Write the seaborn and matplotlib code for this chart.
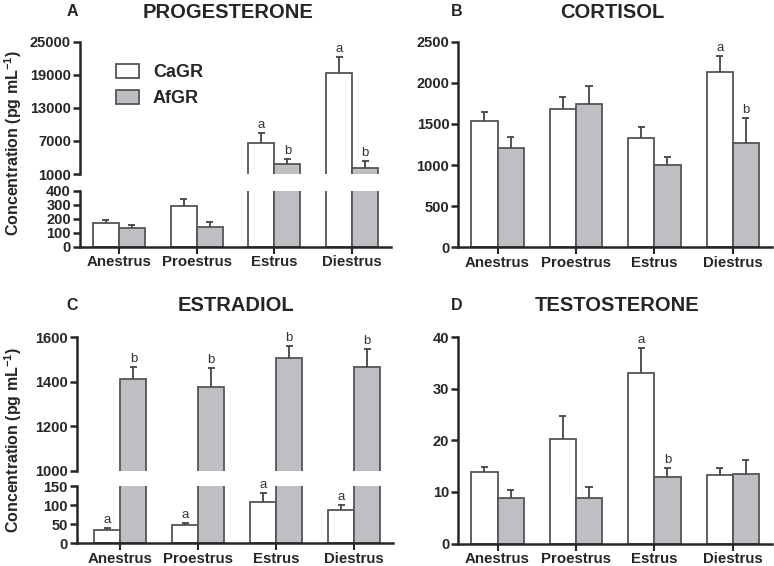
import pandas as pd
import matplotlib.pyplot as plt
import matplotlib.patches as mpatches
import seaborn as sns

# ==============================
# DATA
# ==============================
stages = ["Anestrus", "Proestrus", "Estrus", "Diestrus"]
groups = ["CaGR", "AfGR"]

prog_cagr = [173, 291, 6680, 19380]
prog_cagr_err = [19, 48, 1700, 2900]
prog_afgr = [133, 144, 2810, 2090]
prog_afgr_err = [23, 31, 860, 1320]
prog_letters_cagr = ["", "", "a", "a"]
prog_letters_afgr = ["", "", "b", "b"]

cort_cagr = [1536, 1682, 1333, 2135]
cort_cagr_err = [113, 146, 134, 191]
cort_afgr = [1204, 1742, 1001, 1272]
cort_afgr_err = [133, 219, 93, 297]
cort_letters_cagr = ["", "", "", "a"]
cort_letters_afgr = ["", "", "", "b"]

estr_cagr = [35, 48, 109, 87]
estr_cagr_err = [4, 6, 22, 13]
estr_afgr = [1411, 1375, 1506, 1465]
estr_afgr_err = [57, 88, 56, 83]
estr_letters_cagr = ["a", "a", "a", "a"]
estr_letters_afgr = ["b", "b", "b", "b"]

test_cagr = [13.8, 20.3, 33.0, 13.3]
test_cagr_err = [1.0, 4.4, 5.0, 1.4]
test_afgr = [8.75, 8.9, 12.95, 13.4]
test_afgr_err = [1.55, 2.0, 1.75, 2.8]
test_letters_cagr = ["", "", "a", ""]
test_letters_afgr = ["", "", "b", ""]

# ==============================
# STYLE
# ==============================
sns.set_style("ticks")
plt.rcParams["font.family"] = ["Liberation Sans", "DejaVu Sans"]
plt.rcParams["font.weight"] = "bold"
plt.rcParams["mathtext.fontset"] = "custom"
plt.rcParams["mathtext.rm"] = "Liberation Sans"
plt.rcParams["mathtext.bf"] = "Liberation Sans:bold"

WHITE = "#ffffff"
GREY = "#bdbdc4"
EDGE = "#555555"
ERR = "#444444"

W, H = 774, 566
fig = plt.figure(figsize=(W / 100, H / 100), dpi=100)


def px_axes(x0, y0, x1, y1):
    return fig.add_axes([x0 / W, 1 - y1 / H, (x1 - x0) / W, (y1 - y0) / H])


def make_df(cagr, afgr):
    return pd.DataFrame({
        "stage": stages * 2,
        "group": ["CaGR"] * 4 + ["AfGR"] * 4,
        "value": list(cagr) + list(afgr),
    })


def draw_bars(ax, df, errs, letters, xlim, ylim, yticks, show_x=True):
    sns.barplot(data=df, x="stage", y="value", hue="group", hue_order=groups,
                palette=[WHITE, GREY], width=0.667, edgecolor=EDGE,
                linewidth=1.3, errorbar=None, legend=False, ax=ax)
    for cont, err, lets in zip(ax.containers, errs, letters):
        for bar, e, let in zip(cont, err, lets):
            xc = bar.get_x() + bar.get_width() / 2
            top = bar.get_height()
            ax.vlines(xc, top, top + e, color=ERR, lw=1.3, zorder=1)
            ax.hlines(top + e, xc - 0.045, xc + 0.045, color=ERR, lw=1.3, zorder=1)
            if let and ylim[0] < top + e < ylim[1]:
                ax.annotate(let, (xc, top + e), xytext=(0, 1.5),
                            textcoords="offset points", ha="center", va="bottom",
                            fontsize=9.5, fontweight="normal", color="#333333")
    ax.set_xlim(*xlim)
    ax.set_ylim(*ylim)
    ax.set_yticks(yticks)
    ax.set_xlabel("")
    ax.set_ylabel("")
    for side in ["top", "right"]:
        ax.spines[side].set_visible(False)
    ax.spines["left"].set_linewidth(1.8)
    ax.spines["bottom"].set_linewidth(1.8)
    ax.tick_params(axis="y", direction="out", length=5, width=1.8,
                   labelsize=10.5, pad=1.5)
    ax.tick_params(axis="x", direction="out", length=5, width=1.5,
                   labelsize=10.8, pad=1)
    for lab in ax.get_yticklabels() + ax.get_xticklabels():
        lab.set_fontweight("bold")
    if not show_x:
        ax.spines["bottom"].set_visible(False)
        ax.tick_params(axis="x", bottom=False, labelbottom=False)


# ==============================
# A: PROGESTERONE (broken axis)
# ==============================
df_prog = make_df(prog_cagr, prog_afgr)
errs = [prog_cagr_err, prog_afgr_err]
lets = [prog_letters_cagr, prog_letters_afgr]
axA_top = px_axes(80, 41.7, 391, 174)
draw_bars(axA_top, df_prog, errs, lets, (-0.5, 3.5), (1000, 25000),
          [1000, 7000, 13000, 19000, 25000], show_x=False)
axA_bot = px_axes(80, 190.7, 391, 247)
draw_bars(axA_bot, df_prog, errs, lets, (-0.5, 3.5), (0, 400),
          [0, 100, 200, 300, 400])

handles = [mpatches.Patch(facecolor=WHITE, edgecolor=EDGE, lw=1.3),
           mpatches.Patch(facecolor=GREY, edgecolor=EDGE, lw=1.3)]
axA_top.legend(handles, groups, loc="upper left", bbox_to_anchor=(0.115, 0.83),
               frameon=False, handlelength=1.3, handleheight=0.75,
               handletextpad=0.75, labelspacing=0.5, borderpad=0,
               borderaxespad=0, prop={"weight": "bold", "size": 13})

# ==============================
# B: CORTISOL
# ==============================
axB = px_axes(458.3, 41.7, 772, 247.3)
draw_bars(axB, make_df(cort_cagr, cort_afgr), [cort_cagr_err, cort_afgr_err],
          [cort_letters_cagr, cort_letters_afgr], (-0.5, 3.5), (0, 2500),
          [0, 500, 1000, 1500, 2000, 2500])

# ==============================
# C: ESTRADIOL (broken axis)
# ==============================
df_estr = make_df(estr_cagr, estr_afgr)
errs = [estr_cagr_err, estr_afgr_err]
lets = [estr_letters_cagr, estr_letters_afgr]
axC_top = px_axes(76.7, 337.3, 393, 470.7)
draw_bars(axC_top, df_estr, errs, lets, (-0.56, 3.5), (1000, 1600),
          [1000, 1200, 1400, 1600], show_x=False)
axC_bot = px_axes(76.7, 486, 393, 543.3)
draw_bars(axC_bot, df_estr, errs, lets, (-0.56, 3.5), (0, 150),
          [0, 50, 100, 150])

# ==============================
# D: TESTOSTERONE
# ==============================
axD = px_axes(458.3, 337.3, 772, 543.5)
draw_bars(axD, make_df(test_cagr, test_afgr), [test_cagr_err, test_afgr_err],
          [test_letters_cagr, test_letters_afgr], (-0.5, 3.5), (0, 40),
          [0, 10, 20, 30, 40])

# ==============================
# TITLES / LABELS
# ==============================
def fig_text(x, y, s, **kw):
    fig.text(x / W, 1 - y / H, s, fontweight="bold", **kw)


fig_text(72, 12, "A", fontsize=11.5, ha="center", va="center")
fig_text(228, 12, "PROGESTERONE", fontsize=14.5, ha="center", va="center")
fig_text(457, 12, "B", fontsize=11.5, ha="center", va="center")
fig_text(612, 12, "CORTISOL", fontsize=14.5, ha="center", va="center")
fig_text(72, 305, "C", fontsize=11.5, ha="center", va="center")
fig_text(236, 305, "ESTRADIOL", fontsize=14.5, ha="center", va="center")
fig_text(457, 305, "D", fontsize=11.5, ha="center", va="center")
fig_text(617, 305, "TESTOSTERONE", fontsize=14.5, ha="center", va="center")

ylab = r"Concentration (pg mL$^{\mathbf{-1}}$)"
fig_text(13, 143, ylab, fontsize=11.5, rotation=90, ha="center", va="center")
fig_text(13, 440, ylab, fontsize=11.5, rotation=90, ha="center", va="center")

plt.savefig("out.png", dpi=100)
plt.close()
